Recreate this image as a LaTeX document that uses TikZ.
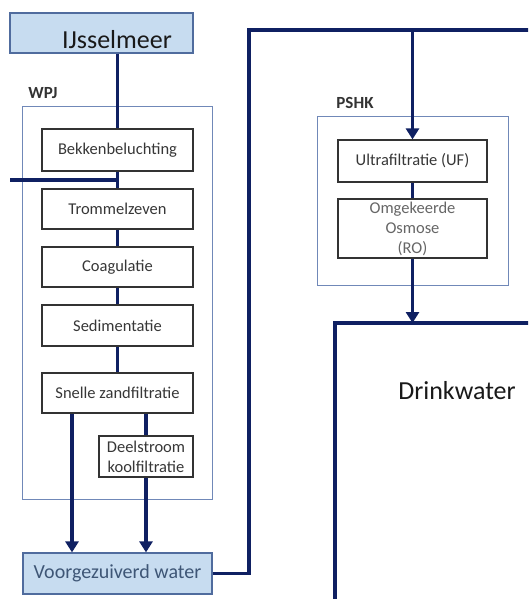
\documentclass[tikz,border=0pt]{standalone}
\usepackage{fontspec}
\setmainfont{Carlito}
\usetikzlibrary{arrows.meta}
\definecolor{navy}{RGB}{15,32,98}
\definecolor{lblue}{RGB}{199,220,240}
\definecolor{bbord}{RGB}{80,108,158}
\definecolor{cbord}{RGB}{112,136,184}
\definecolor{boxtxt}{RGB}{55,55,55}
\definecolor{voortxt}{RGB}{62,86,118}
\begin{document}
\begin{tikzpicture}[x=1pt,y=-1pt,
  flow/.style={draw=navy,line width=3.4pt},
  arr/.style={flow,-{Triangle[width=13pt,length=11pt]}},
  bluebox/.style={draw=bbord,line width=1.2pt,fill=lblue,inner sep=0pt},
  cont/.style={draw=cbord,line width=1pt,inner sep=0pt},
  stepbox/.style={draw=black!80,line width=1.2pt,fill=white,inner sep=0pt,align=center,text=boxtxt,font=\fontsize{16.5}{20}\selectfont},
  lbl/.style={font=\fontsize{17}{20}\selectfont\bfseries,text=black!80},
  bigtext/.style={font=\fontsize{26}{30}\selectfont,text=black!90}]
\useasboundingbox (0,0) rectangle (528,599);
\clip (0,0) rectangle (528,599);
% IJsselmeer
\node[bluebox,minimum width=183pt,minimum height=40pt] (ijs) at (101.5,33) {};
\node[bigtext] (ijst) at (117,40) {IJsselmeer};
% WPJ
\node[cont,minimum width=190pt,minimum height=392pt] (wpj) at (117,303) {};
\node[lbl] (wpjl) at (43,93) {WPJ};
\node[stepbox,minimum width=151pt,minimum height=42pt] (bek) at (117.5,150) {Bekkenbeluchting};
\node[stepbox,minimum width=151pt,minimum height=40pt] (trom) at (117.5,209) {Trommelzeven};
\node[stepbox,minimum width=151pt,minimum height=40pt] (coag) at (117.5,267) {Coagulatie};
\node[stepbox,minimum width=151pt,minimum height=41pt] (sed) at (117.5,325.5) {Sedimentatie};
\node[stepbox,minimum width=151pt,minimum height=40pt] (snel) at (117.5,393) {Snelle zandfiltratie};
\node[stepbox,minimum width=94pt,minimum height=41pt] (deel) at (146,456.5) {Deelstroom\\koolfiltratie};
\node[bluebox,minimum width=189pt,minimum height=41pt,text=voortxt,font=\fontsize{20}{22}\selectfont] (voor) at (117.5,573.5) {Voorgezuiverd water};
% PSHK
\node[cont,minimum width=191pt,minimum height=168pt] (pshk) at (412.5,201) {};
\node[lbl] (pshkl) at (355,103) {PSHK};
\node[stepbox,minimum width=149pt,minimum height=42pt] (uf) at (412.5,161) {Ultrafiltratie (UF)};
\node[stepbox,minimum width=149pt,minimum height=59pt,text=black!60] (ro) at (412.5,228.5) {Omgekeerde\\Osmose\\(RO)};
% Drinkwater
\node[bigtext] (dwt) at (457,391) {Drinkwater};
% coordinates
\coordinate (inl) at (10,180);
\coordinate (lx) at (72,0);
\coordinate (c1) at (249,30);
\coordinate (c2) at (535,30);
\coordinate (dwb) at (335,610);
\coordinate (dwtr) at (535,323);
% connectors
\draw[flow] (bek.north |- ijs.south) -- (bek.north);
\draw[flow] (bek) -- (trom);
\draw[flow] (trom) -- (coag);
\draw[flow] (coag) -- (sed);
\draw[flow] (sed) -- (snel);
\draw[flow] (inl) -- (inl -| bek.south);
\draw[arr] (snel.south -| lx) -- (voor.north -| lx);
\draw[flow] (snel.south -| deel.north) -- (deel.north);
\draw[arr] (deel.south) -- (deel.south |- voor.north);
\draw[flow,line join=miter] (voor.east) -| (c1) -- (c2);
\draw[arr] (uf.north |- c1) -- (uf.north);
\draw[flow] (uf) -- (ro);
\draw[flow,line join=miter] (dwb) |- (dwtr);
\draw[arr] (ro.south) -- (ro.south |- dwtr);
\end{tikzpicture}
\end{document}
